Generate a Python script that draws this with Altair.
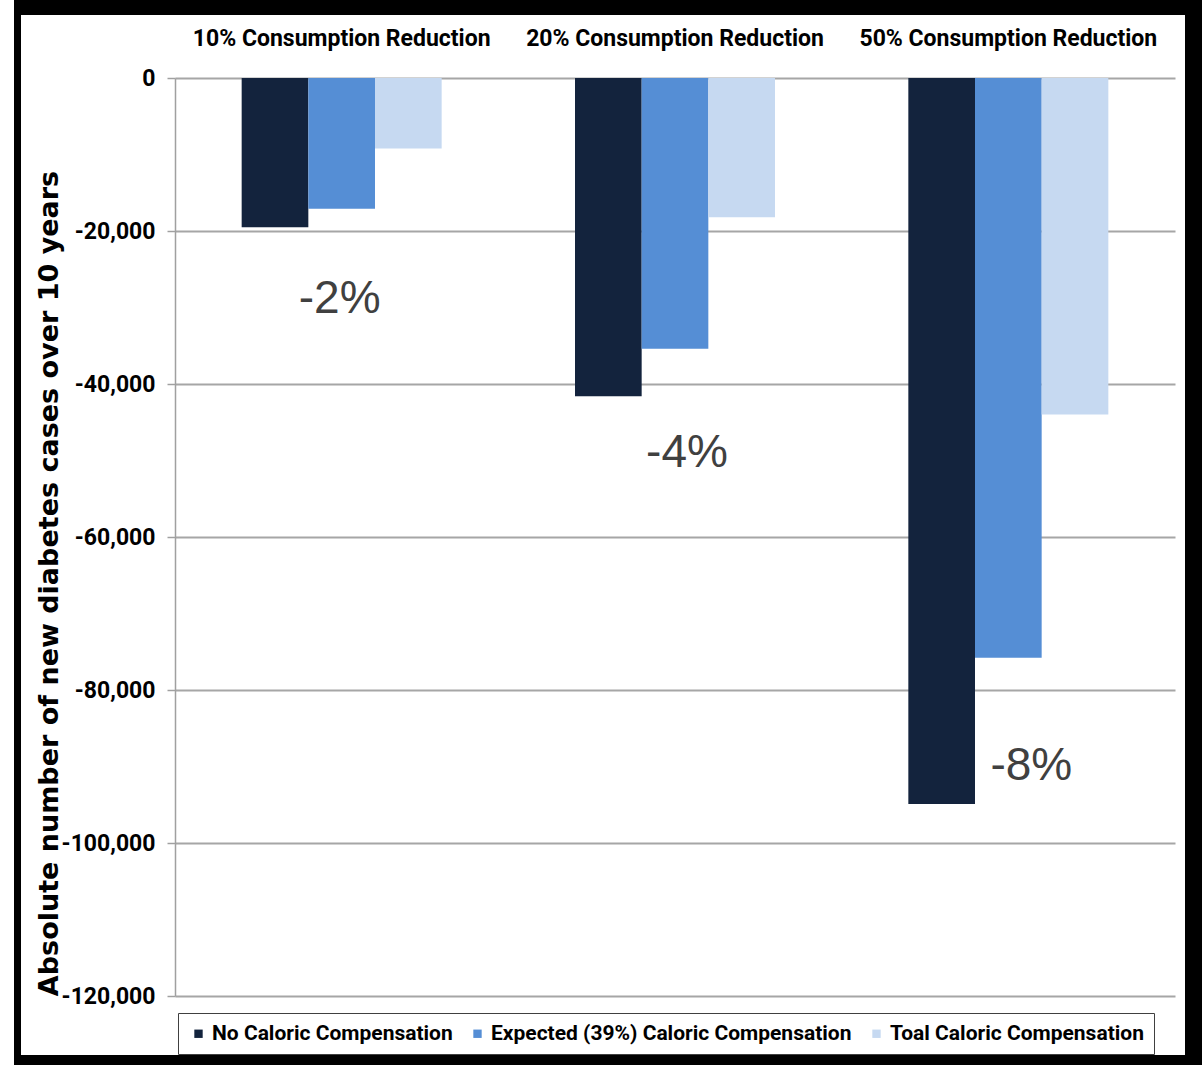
import altair as alt
import pandas as pd

categories = ["10% Consumption Reduction", "20% Consumption Reduction", "50% Consumption Reduction"]
series = ["No Caloric Compensation", "Expected (39%) Caloric Compensation", "Toal Caloric Compensation"]
no_comp = [-19500, -41600, -94900]
expected_comp = [-17100, -35400, -75800]
total_comp = [-9200, -18200, -44000]
colors = ["#13233d", "#558ed5", "#c6d9f1"]
y_ticks = [0, -20000, -40000, -60000, -80000, -100000, -120000]

ann_labels = ["-2%", "-4%", "-8%"]
ann_values = [-30700, -50800, -91700]
ann_dx = [-2, 12, 23]

rows = []
for i, c in enumerate(categories):
    for s, vals in zip(series, [no_comp, expected_comp, total_comp]):
        rows.append({"category": c, "series": s, "value": vals[i]})
df = pd.DataFrame(rows)

NARROW = "Roboto, Liberation Sans, sans-serif"

x_enc = alt.X(
    "category:N", sort=categories, title=None,
    scale=alt.Scale(paddingInner=0, paddingOuter=0),
    axis=alt.Axis(orient="top", domain=False, ticks=False, labelPadding=28,
                  labelFont=NARROW, labelFontSize=23, labelFontWeight="bold",
                  labelColor="black", labelAngle=0, labelLimit=400),
)
y_scale = alt.Scale(domain=[-120000, 0], nice=False, zero=True)

one = pd.DataFrame({"k": [0]})
frame_parts = [
    (-161, 1027, -78, -63),   # top
    (-161, -154, -78, 987),   # left
    (1010, 1027, -78, 987),   # right
    (-161, 1027, 977, 987),   # bottom
]
frames = [
    alt.Chart(one).mark_rect(color="black").encode(
        x=alt.value(a), x2=alt.value(b), y=alt.value(c), y2=alt.value(d))
    for a, b, c, d in frame_parts
]

bars = alt.Chart(df).mark_bar().encode(
    x=x_enc,
    xOffset=alt.XOffset("series:N", sort=series,
                        scale=alt.Scale(paddingOuter=1, paddingInner=0)),
    y=alt.Y(
        "value:Q", scale=y_scale,
        title="Absolute number of new diabetes cases over 10 years",
        axis=alt.Axis(
            values=y_ticks,
            labelExpr="(datum.value < 0 ? '-' : '') + format(abs(datum.value), ',')",
            labelFont=NARROW, labelFontSize=23, labelFontWeight="bold", labelColor="black",
            labelPadding=12, tickSize=8, tickColor="#a0a0a0", tickWidth=1.5,
            domainColor="#a0a0a0", domainWidth=1.5,
            grid=True, gridColor="#a6a6a6", gridWidth=2,
            titleFont="DejaVu Sans", titleFontSize=27, titleFontWeight="bold",
            titleColor="black", titleX=-118, titleY=505, titleAlign="center",
            titleBaseline="alphabetic", titleAngle=270,
        ),
    ),
    color=alt.Color(
        "series:N", sort=series,
        scale=alt.Scale(domain=series, range=colors),
        legend=alt.Legend(
            title=None, orient="none", legendX=3, legendY=935, direction="horizontal",
            symbolType="square", symbolSize=70, symbolStrokeWidth=0,
            labelFont=NARROW, labelFontSize=21, labelFontWeight="bold", labelColor="black",
            labelOffset=3, columnPadding=14, padding=10,
            strokeColor="#404040", labelLimit=500,
        ),
    ),
)

layers = frames + [bars]
for i, (lab, val, dx) in enumerate(zip(ann_labels, ann_values, ann_dx)):
    adf = pd.DataFrame({"category": [categories[i]], "y": [val], "label": [lab]})
    t = alt.Chart(adf).mark_text(
        font="Liberation Sans, Arial, sans-serif", fontSize=46, color="#404040",
        baseline="alphabetic", align="center", dx=dx,
    ).encode(
        x=alt.X("category:N", sort=categories),
        y=alt.Y("y:Q", scale=y_scale),
        text="label:N",
    )
    layers.append(t)

chart = alt.layer(*layers).properties(
    width=1000, height=918,
    padding={"left": 14, "top": 0, "right": 0, "bottom": 0},
    background="white",
).configure_view(stroke=None)

chart.save("out.html", embed_options={"renderer": "svg", "actions": False})
